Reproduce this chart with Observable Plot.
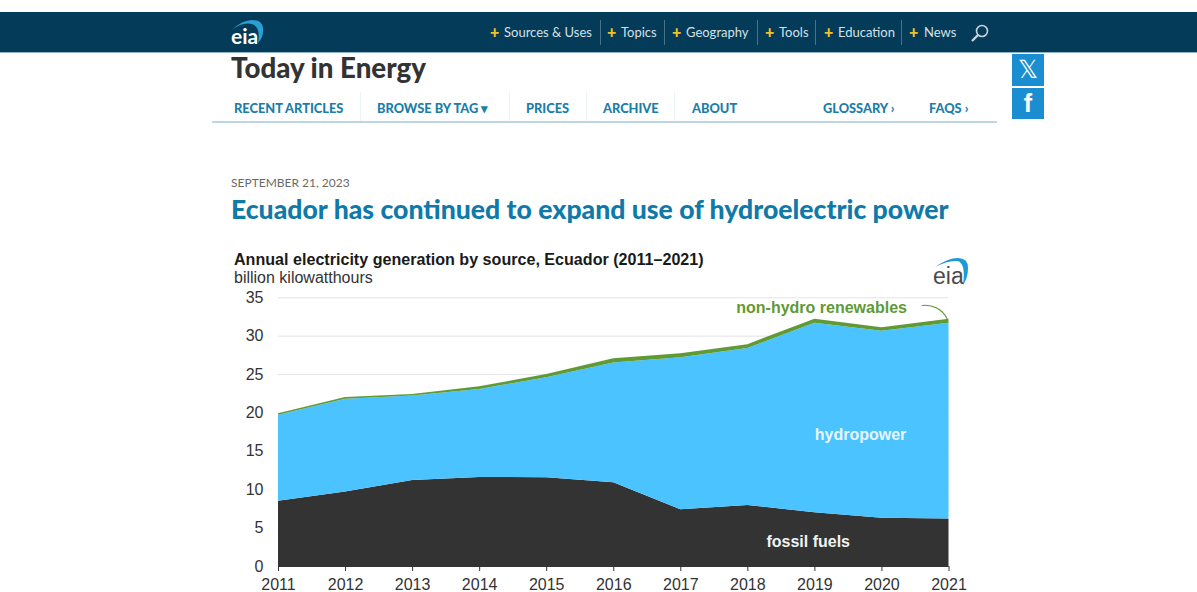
<!DOCTYPE html>
<html>
<head>
<meta charset="utf-8">
<script src="https://cdn.jsdelivr.net/npm/d3@7"></script>
<script src="https://cdn.jsdelivr.net/npm/@observablehq/plot@0.6"></script>
<style>
  html, body { margin: 0; padding: 0; background: #fff; }
  #page { position: relative; width: 1197px; height: 592px; overflow: hidden; font-family: Lato, "Open Sans", sans-serif; }
  #page > * { position: absolute; }
  .t { white-space: nowrap; line-height: 1; }
  #band { left: 0; top: 12px; width: 1197px; height: 41px; background: #033b59; border-bottom: 1px solid #8fb4c8; box-sizing: border-box; }
  .top { color: #d5e0e6; font-size: 13px; top: 26px; }
  .plus { color: #f2c029; font-size: 16px; font-weight: 900; top: 24px; }
  .sep { width: 1px; top: 20px; height: 25px; background: #4a7389; }
  .tab { color: #1b7ea9; font-size: 12.8px; font-weight: 900; top: 102px; }
  .tabsep { width: 1px; top: 92px; height: 29px; background: #eef3f6; }
  .social { left: 1012px; width: 32px; background: #1b8ed1; color: #fff; text-align: center; }
  #chart { left: 220px; top: 285px; }
  #chart svg { display: block; }
</style>
</head>
<body>
<div id="page">
  <div id="band"></div>
  <div class="t" style="left:231px;top:25px;color:#fff;font-size:21px;font-weight:700;">eia</div>
  <svg style="left:228px;top:17px" width="40" height="30"><path d="M4 13 Q14 3 24 3 Q34 3 35 11 Q36 20 30 26 Q33 10 24 7 Q14 5 4 13Z" fill="#2a9fd6"/></svg>
  <svg style="left:970px;top:23px" width="20" height="20"><circle cx="12" cy="8" r="5.5" fill="none" stroke="#c5d3db" stroke-width="1.6"/><path d="M8 12 L2 18" stroke="#c5d3db" stroke-width="2.4"/></svg>

  <div class="t" style="left:231px;top:54px;font-size:27.7px;font-weight:900;color:#333;">Today in Energy</div>

  <div style="left:212px;top:121px;width:785px;height:2px;background:#bcd7e3;"></div>
  <div class="social" style="top:54px;height:32px;font:300 25px/32px 'DejaVu Sans',sans-serif;">𝕏</div>
  <div class="social" style="top:88px;height:31px;font:700 25px/31px 'Liberation Sans',sans-serif;">f</div>

  <div class="t" style="left:231px;top:177px;font-size:12px;color:#6a6a6a;">SEPTEMBER 21, 2023</div>
  <div class="t" style="left:231px;top:196px;font-size:26.6px;font-weight:900;color:#0f7aa9;">Ecuador has continued to expand use of hydroelectric power</div>

  <div class="t" style="left:234px;top:250px;font:700 16.1px 'Liberation Sans',Arial,sans-serif;color:#1a1a1a;">Annual electricity generation by source, Ecuador (2011–2021)</div>
  <div class="t" style="left:234px;top:269px;font:16px 'Liberation Sans',Arial,sans-serif;color:#333;">billion kilowatthours</div>
  <div class="t" style="left:933px;top:263px;font:400 23px 'Liberation Sans',Arial,sans-serif;color:#4a4a4a;">eia</div>
  <svg style="left:930px;top:256px" width="45" height="32"><path d="M5 11 Q18 2 28 2 Q38 2 38 12 Q38 22 33 29 Q36 8 28 5 Q18 4 5 11Z" fill="#1b9ad6"/></svg>
  <div id="chart"></div>
</div>

<script>
  // Annual generation by source, billion kWh
  const years = [2011, 2012, 2013, 2014, 2015, 2016, 2017, 2018, 2019, 2020, 2021];
  const fossilFuels = [8.5, 9.7, 11.2, 11.6, 11.55, 10.9, 7.4, 7.95, 7.0, 6.3, 6.2];
  const hydropower = [11.2, 12.1, 11.0, 11.45, 13.05, 15.6, 19.8, 20.45, 24.7, 24.35, 25.5];
  const nonHydro = [0.2, 0.2, 0.2, 0.35, 0.4, 0.55, 0.5, 0.5, 0.5, 0.45, 0.5];

  const sources = ["fossil fuels", "hydropower", "non-hydro renewables"];
  const sourceColors = ["#333333", "#4bc3ff", "#5f9a35"];
  const seriesBySource = [fossilFuels, hydropower, nonHydro];
  const yTicks = [0, 5, 10, 15, 20, 25, 30, 35];

  const generation = sources.flatMap((source, s) =>
    years.map((year, i) => ({year, source, value: seriesBySource[s][i]}))
  );

  const chartFont = "'Liberation Sans', Arial, sans-serif";

  const plot = Plot.plot({
    width: 770,
    height: 307,
    marginLeft: 58,
    marginRight: 41.5,
    marginTop: 12.3,
    marginBottom: 26,
    style: {fontFamily: chartFont, background: "transparent", overflow: "visible"},
    x: {domain: [2011, 2021], label: null},
    y: {domain: [0, 35], label: null},
    color: {domain: sources, range: sourceColors},
    marks: [
      Plot.ruleY(yTicks, {stroke: "#e4e4e4", strokeWidth: 1}),
      Plot.areaY(generation, {
        x: "year",
        y: "value",
        z: "source",
        fill: "source",
        order: sources,
        curve: "linear"
      }),
      Plot.ruleY([0], {stroke: "#333333"}),
      Plot.axisX({
        ticks: years,
        tickFormat: "d",
        tickSize: 5,
        tickPadding: 7,
        stroke: "#333",
        label: null,
        fontSize: 16,
        color: "#333"
      }),
      Plot.axisY({
        ticks: yTicks,
        tickSize: 0,
        tickPadding: 15,
        label: null,
        fontSize: 16,
        color: "#333"
      }),
      Plot.text(["hydropower"], {x: [2019.68], y: [17.2], fill: "#e6f6ff", fontSize: 16, fontWeight: 700}),
      Plot.text(["fossil fuels"], {x: [2018.9], y: [3.25], fill: "#f2f2f2", fontSize: 16, fontWeight: 700}),
      Plot.text(["non-hydro renewables"], {x: [2019.1], y: [33.7], fill: "#5f9a35", fontSize: 16, fontWeight: 700}),
      Plot.arrow([0], {
        x1: [2020.6], y1: [34.0],
        x2: [2020.97], y2: [32.3],
        bend: 35, headLength: 0,
        stroke: "#5f9a35", strokeWidth: 1.2
      })
    ]
  });
  plot.setAttribute("height", 307);
  document.getElementById("chart").append(plot);

  // Site navigation strip
  const page = document.getElementById("page");
  const addText = (cls, left, text) => {
    const el = document.createElement("div");
    el.className = "t " + cls;
    el.style.left = left + "px";
    el.textContent = text;
    page.append(el);
  };
  const addRule = (cls, left) => {
    const el = document.createElement("div");
    el.className = cls;
    el.style.left = left + "px";
    page.append(el);
  };

  const topItems = ["Sources & Uses", "Topics", "Geography", "Tools", "Education", "News"];
  const topLeft = [504, 621, 686, 779, 838, 924];
  const topPlus = [490, 607, 672, 765, 824, 909];
  const topSeps = [600, 664, 757, 815, 901];
  topItems.forEach((item, i) => {
    addText("top", topLeft[i], item);
    addText("plus", topPlus[i], "+");
  });
  topSeps.forEach(x => addRule("sep", x));

  const tabs = ["RECENT ARTICLES", "BROWSE BY TAG ▾", "PRICES", "ARCHIVE", "ABOUT", "GLOSSARY  ›", "FAQS  ›"];
  const tabLeft = [234, 377, 526, 603, 692, 823, 929];
  const tabSeps = [360, 509, 586, 674];
  tabs.forEach((item, i) => addText("tab", tabLeft[i], item));
  tabSeps.forEach(x => addRule("tabsep", x));
</script>
</body>
</html>
